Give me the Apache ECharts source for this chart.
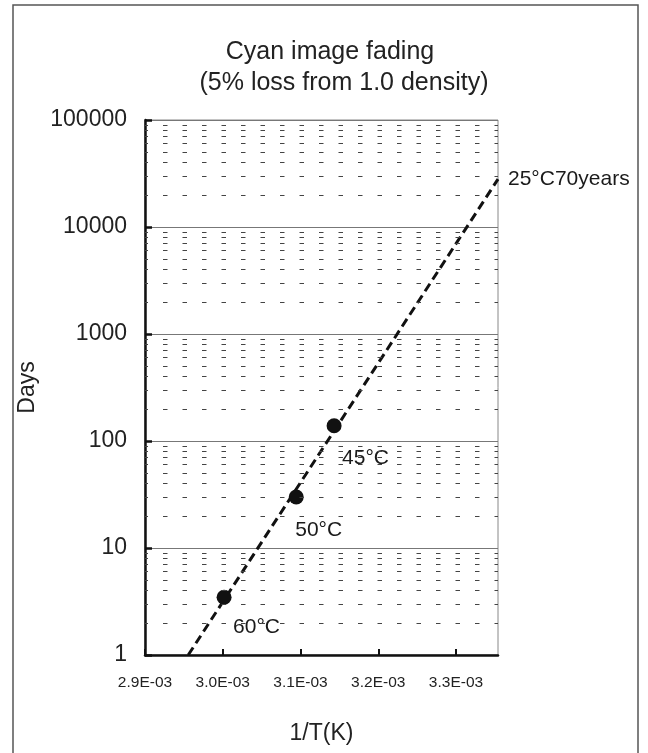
<!DOCTYPE html>
<html>
<head>
<meta charset="utf-8">
<script src="https://cdn.jsdelivr.net/npm/echarts@6/dist/echarts.min.js"></script>
<style>html,body{margin:0;padding:0;background:#fff;}#c{width:648px;height:753px;}</style>
</head>
<body>
<div id="c"></div>
<script>
// ---- data ----
var titleLines = ['Cyan image fading', '(5% loss from 1.0 density)'];
var xName = '1/T(K)';
var yName = 'Days';
var xTickLabels = ['2.9E-03', '3.0E-03', '3.1E-03', '3.2E-03', '3.3E-03'];
var yTickLabels = ['1', '10', '100', '1000', '10000', '100000'];
var pointX = [0.0030017, 0.0030945, 0.0031432];
var pointDays = [3.46, 30, 139];
var pointLabels = ['60°C', '50°C', '45°C'];
var fitX = [0.0029556, 0.003354];
var fitDays = [1, 28000];
var fitLabel = '25°C70years';
var minorMultipliers = [2, 3, 4, 5, 6, 7, 8, 9];
var minorDecades = [1, 10, 100, 1000, 10000];

// ---- build ----
var FONT = '"Liberation Sans", Arial, sans-serif';
var minorLines = [];
minorDecades.forEach(function (d) {
  minorMultipliers.forEach(function (m) { minorLines.push({ yAxis: m * d }); });
});
var labelOffsets = [[9, 30], [-1, 33], [8, 33]];
var points = pointX.map(function (x, i) {
  return {
    value: [x, pointDays[i]],
    label: {
      show: true, formatter: pointLabels[i], position: 'inside',
      offset: labelOffsets[i], align: 'left', verticalAlign: 'middle',
      color: '#1a1a1a', fontSize: 21, fontFamily: FONT
    }
  };
});
var fit = fitX.map(function (x, i) { return [x, fitDays[i]]; });

var chart = echarts.init(document.getElementById('c'), null, { renderer: 'canvas' });
chart.setOption({
  backgroundColor: '#fff',
  animation: false,
  textStyle: { fontFamily: FONT },
  graphic: [
    { type: 'rect', z: -10, shape: { x: 13, y: 5, width: 625, height: 800 },
      style: { fill: 'none', stroke: '#555', lineWidth: 1.5 } },
    { type: 'text', style: { text: titleLines[0], x: 330, y: 52, align: 'center', verticalAlign: 'middle',
      font: '25px ' + FONT, fill: '#222' } },
    { type: 'text', style: { text: titleLines[1], x: 344, y: 83, align: 'center', verticalAlign: 'middle',
      font: '25px ' + FONT, fill: '#222' } }
  ],
  grid: { left: 145, top: 120, right: 150, bottom: 98, show: true, borderColor: '#888', borderWidth: 1,
    containLabel: false },
  xAxis: {
    type: 'value', min: 0.0029, max: 0.003354, interval: 0.0001,
    name: xName, nameLocation: 'middle', nameGap: 67,
    nameTextStyle: { fontSize: 23, color: '#222', fontFamily: FONT },
    axisLine: { show: true, lineStyle: { color: '#111', width: 2.5 } },
    axisTick: { show: true, inside: true, length: 6, lineStyle: { color: '#111', width: 2 } },
    splitLine: { show: false },
    axisLabel: {
      fontSize: 15.5, color: '#222', margin: 20, showMaxLabel: false,
      formatter: function (v) {
        var i = Math.round((v - 0.0029) / 0.0001);
        return Math.abs(v - (0.0029 + i * 0.0001)) < 1e-9 && xTickLabels[i] ? xTickLabels[i] : '';
      }
    }
  },
  yAxis: {
    type: 'log', logBase: 10, min: 1, max: 100000,
    name: yName, nameLocation: 'middle', nameGap: 105,
    nameTextStyle: { fontSize: 23, color: '#222', fontFamily: FONT },
    axisLine: { show: true, lineStyle: { color: '#111', width: 2.5 } },
    axisTick: { show: true, inside: true, length: 7, lineStyle: { color: '#111', width: 2.5 } },
    splitLine: { show: true, lineStyle: { color: '#777', width: 1 } },
    minorTick: { show: false }, minorSplitLine: { show: false },
    axisLabel: {
      fontSize: 23, color: '#222', margin: 18,
      formatter: function (v) { return yTickLabels[Math.round(Math.log10(v))] || ''; }
    }
  },
  series: [
    {
      type: 'line', data: fit, symbol: 'none', showSymbol: false, z: 3,
      lineStyle: { color: '#111', width: 3, type: [9, 5] },
      markLine: {
        silent: true, symbol: ['none', 'none'], label: { show: false }, animation: false,
        lineStyle: { color: '#444', width: 1, type: [4.5, 15], dashOffset: 1.5 },
        emphasis: { disabled: true },
        data: minorLines
      },
      endLabel: { show: true, formatter: function () { return fitLabel; }, distance: 10,
        fontSize: 21, color: '#1a1a1a', fontFamily: FONT }
    },
    {
      type: 'scatter', data: points, symbol: 'circle', symbolSize: 15, z: 4,
      itemStyle: { color: '#111', opacity: 1 },
      emphasis: { disabled: true }
    }
  ]
});
</script>
</body>
</html>
